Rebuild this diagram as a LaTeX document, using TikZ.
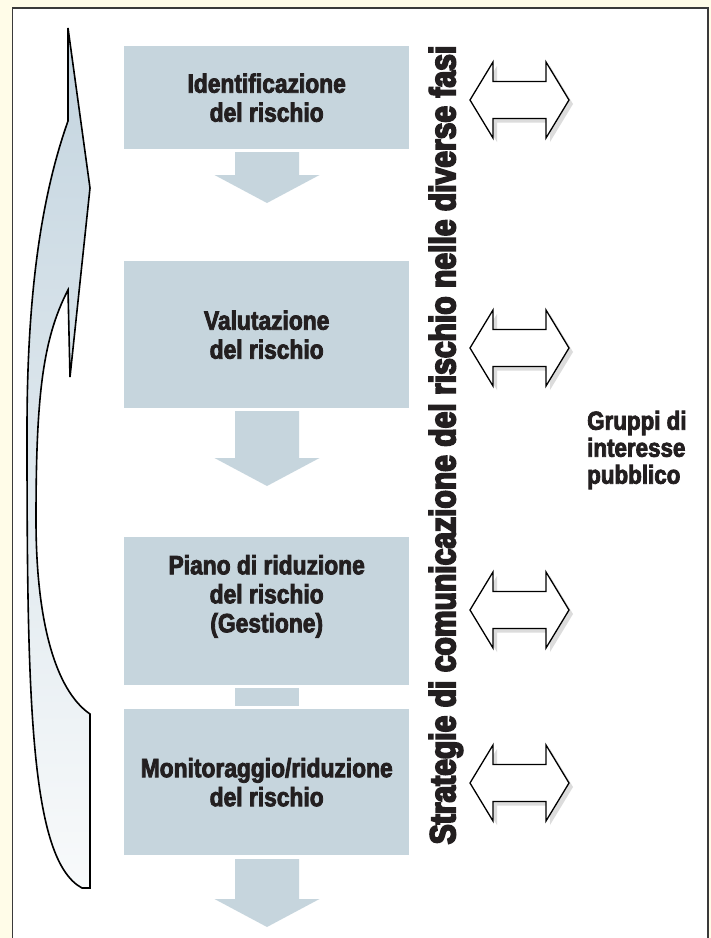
\documentclass[tikz,border=0pt]{standalone}
\usepackage{fontspec}
\setmainfont{Liberation Sans}
\newfontfamily\boxfont{Liberation Sans Bold}[FakeStretch=0.86,FakeBold=3]
\newfontfamily\heavy{Liberation Sans Bold}[FakeStretch=0.835,FakeBold=5]
\usetikzlibrary{calc}

\definecolor{cream}{HTML}{FFFCE8}
\definecolor{stepfill}{HTML}{C6D5DD}
\definecolor{framecol}{HTML}{3A3A3A}
\definecolor{ink}{HTML}{231F20}
\definecolor{loopTop}{HTML}{C3D4DF}
\definecolor{loopBot}{HTML}{F8FAFB}
\definecolor{shadowgray}{HTML}{DCDCDC}

\tikzset{
  stepbox/.style={fill=stepfill, draw=none, inner sep=0pt, anchor=north west,
    minimum width=285pt, text=ink, align=center,
    font=\boxfont\fontsize{26.5}{29}\selectfont},
  flowarrow/.style={fill=stepfill, draw=none},
  dblshadow/.style={fill=shadowgray, draw=none},
  dblbody/.style={fill=white, draw=black, line width=1.3pt, line join=miter},
  loopbody/.style={draw=black, line width=1.6pt, line join=miter,
    top color=loopTop, bottom color=loopBot},
}

% block arrow pointing down: shaft top, head base, tip (centre x = 267)
\newcommand{\blockdown}[3]{%
  \fill[flowarrow] (235,#1) -- (299,#1) -- (299,#2) -- (319.5,#2) -- (267,#3)
    -- (214.5,#2) -- (235,#2) -- cycle;}

% double-headed hollow arrow centred at height #1
\newcommand{\dblarrowpath}[1]{%
  (470,#1) -- (493,#1-38) -- (493,#1-18.5) -- (546,#1-18.5) -- (546,#1-38)
  -- (569,#1) -- (546,#1+38) -- (546,#1+18.5) -- (493,#1+18.5) -- (493,#1+38) -- cycle}
\newcommand{\dblarrow}[1]{%
  \fill[dblshadow, shift={(4pt,-4pt)}] \dblarrowpath{#1};
  \draw[dblbody] \dblarrowpath{#1};}

\begin{document}
\begin{tikzpicture}[x=1pt, y=-1pt]
  % page background and frame
  \fill[cream] (0,0) rectangle (711,938);
  \useasboundingbox (0,0) rectangle (711,938);
  \draw[framecol, line width=1.2pt, fill=white] (12.5,8) rectangle (708,950);

  % process steps
  \node[stepbox, minimum height=103pt] (ident) at (124,46)
    {Identificazione\\del rischio};
  \node[stepbox, minimum height=147pt] (valut) at (124,261)
    {Valutazione\\del rischio};
  \node[stepbox, minimum height=148pt] (piano) at (124,537)
    {Piano di riduzione\\del rischio\\(Gestione)\\[6pt]};
  \node[stepbox, minimum height=146pt] (monit) at (124,709)
    {Monitoraggio/riduzione\\del rischio};

  % arrows between the steps
  \blockdown{152}{175}{203}
  \blockdown{411}{458}{486}
  \fill[flowarrow] (235,688) rectangle (299,706);
  \blockdown{859}{899}{927}

  % feedback loop arrow on the left
  \draw[loopbody] (68,28) -- (68,121)
    .. controls (40,200) and (27,300) .. (27,430)
    .. controls (27,700) and (30,860) .. (82,888)
    -- (90,888) -- (90,714)
    .. controls (55,690) and (36,620) .. (36,520)
    .. controls (36,400) and (42,340) .. (68,290)
    -- (70,377) -- (90,188) -- cycle;

  % communication strategies, vertical title
  \node[rotate=90, text=ink, inner sep=0pt,
    font=\heavy\fontsize{36}{40}\selectfont] (strat) at (446,445)
    {Strategie di comunicazione del rischio nelle diverse fasi};

  % two-way exchanges with the public
  \dblarrow{100}
  \dblarrow{348}
  \dblarrow{610}
  \dblarrow{783}

  \node[anchor=west, text=ink, align=left, inner sep=0pt,
    font=\boxfont\fontsize{26}{27}\selectfont] (gruppi) at (587,450)
    {Gruppi di\\interesse\\pubblico};
\end{tikzpicture}
\end{document}
